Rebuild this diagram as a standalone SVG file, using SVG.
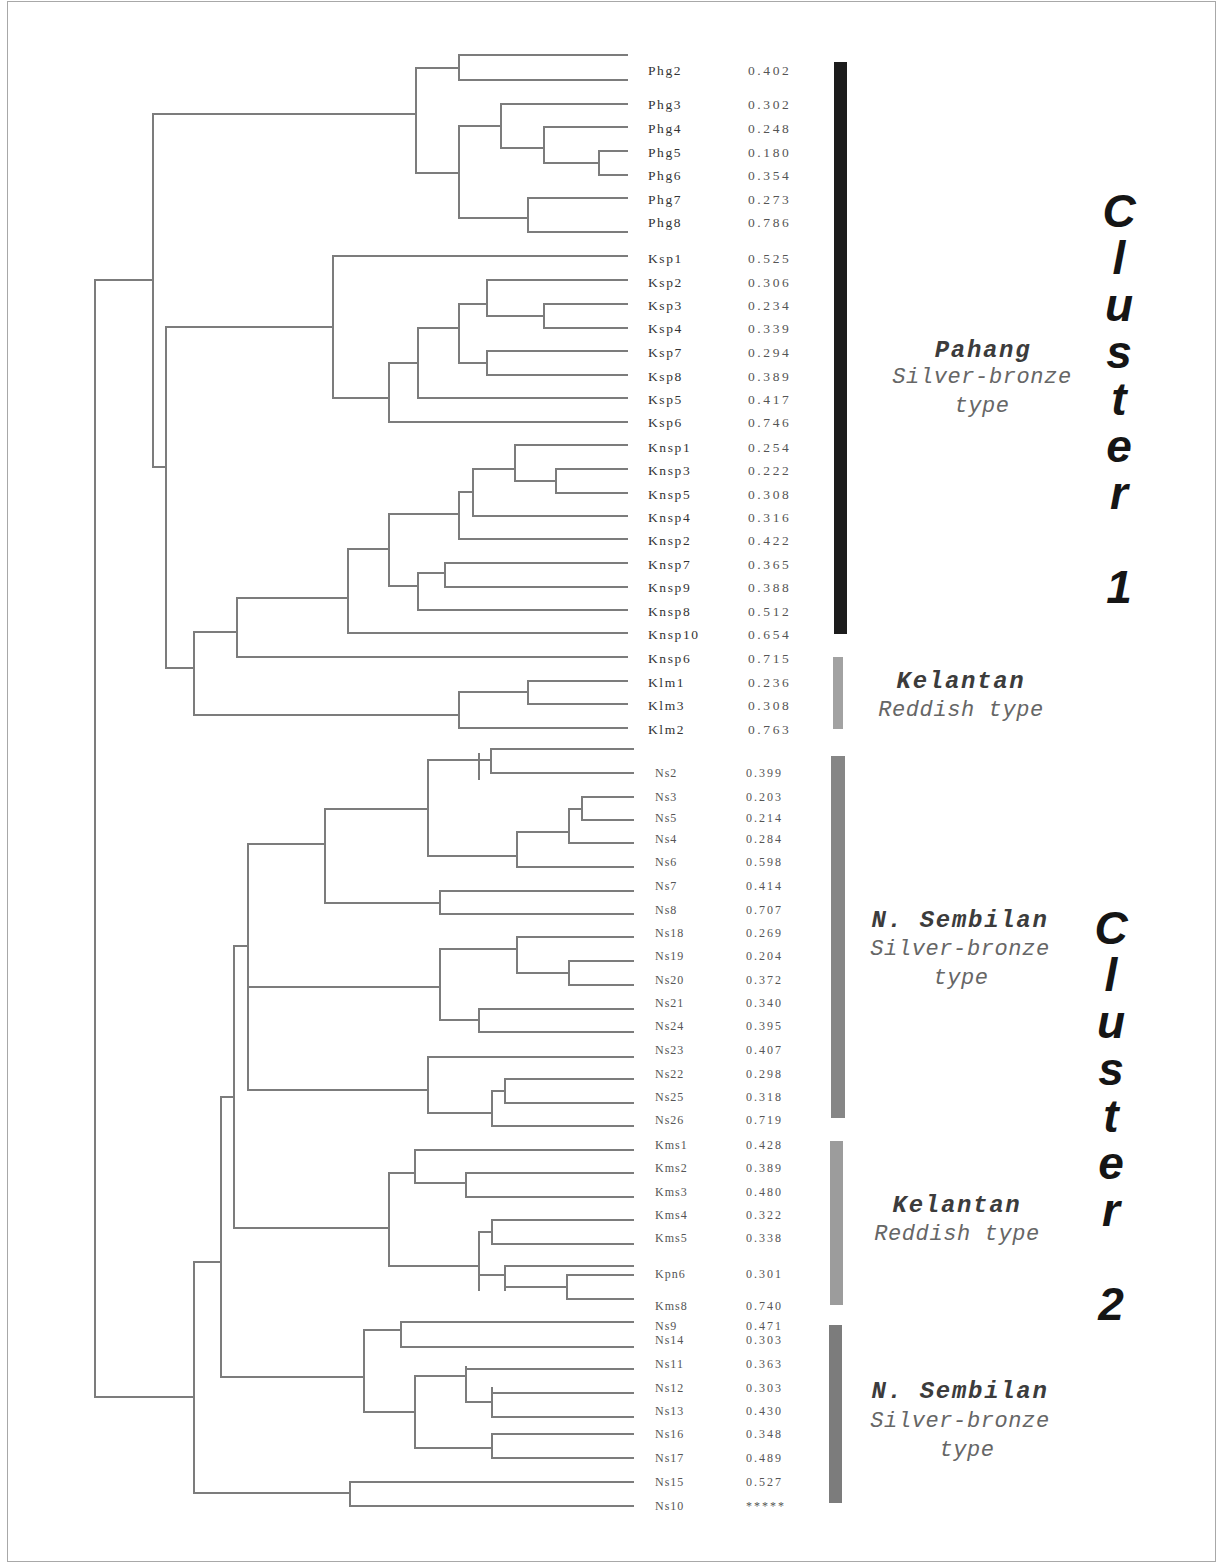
<svg xmlns="http://www.w3.org/2000/svg" width="1223" height="1564" viewBox="0 0 1223 1564">
<style>
.t{fill:none;stroke:#7c7c7c;stroke-width:2;stroke-linecap:square}
.n1{font-family:"Liberation Serif",serif;font-size:13.5px;fill:#333;letter-spacing:1.6px}
.v1{font-family:"Liberation Serif",serif;font-size:13.5px;fill:#555;letter-spacing:2.6px}
.n2{font-family:"Liberation Serif",serif;font-size:12px;fill:#555;letter-spacing:1px}
.v2{font-family:"Liberation Serif",serif;font-size:12px;fill:#555;letter-spacing:2px}
.h{font-family:"Liberation Mono","Courier New",monospace;font-size:24px;font-weight:bold;font-style:italic;fill:#3c3c3c;letter-spacing:1.7px;text-anchor:middle}
.s{font-family:"Liberation Mono","Courier New",monospace;font-size:22px;font-style:italic;fill:#666;letter-spacing:0.6px;text-anchor:middle}
.c{font-family:"Liberation Sans",Arial,sans-serif;font-size:46px;font-weight:bold;font-style:italic;fill:#151515;writing-mode:vertical-rl;text-orientation:upright;letter-spacing:-5px}
</style>
<rect x="7.5" y="1.5" width="1208" height="1560" fill="#fff" stroke="#a8a8a8" stroke-width="1"/>
<g id="connectors">
<path class="t" d="M459,55H627 M459,80H627 M501,104H627 M544,127H627 M599,151H627 M599,175H627 M528,198H627 M528,232H627 M333,256H627 M487,280H627 M544,304H627 M544,328H627 M487,351H627 M487,375H627 M418,398H627 M389,422H627 M515,445H627 M556,469H627 M556,493H627 M473,516H627 M459,539H627 M445,563H627 M445,587H627 M418,610H627 M348,633H627 M237,657H627 M528,681H627 M528,704H627 M459,728H627"/>
<path class="t" d="M544,163H599 M599,151V175 M501,148H544 M544,127V163 M459,126H501 M501,104V148 M459,218H528 M528,198V232 M416,173H459 M459,126V218 M416,68H459 M459,55V80 M153,114H416 M416,68V173 M487,316H544 M544,304V328 M459,304H487 M487,280V316 M459,363H487 M487,351V375 M418,328H459 M459,304V363 M389,363H418 M418,328V398 M333,398H389 M389,363V422 M166,327H333 M333,256V398 M515,481H556 M556,469V493 M473,469H515 M515,445V481 M459,492H473 M473,469V516 M389,514H459 M459,492V539 M418,573H445 M445,563V587 M389,586H418 M418,573V610 M348,549H389 M389,514V586 M237,598H348 M348,549V633 M194,632H237 M237,598V657 M459,692H528 M528,681V704 M194,715H459 M459,692V728 M166,668H194 M194,632V715 M153,467H166 M166,327V668 M95,280H153 M153,114V467"/>
<path class="t" d="M491,749H633 M491,773H633 M582,797H633 M582,820H633 M569,843H633 M517,867H633 M440,891H633 M440,914H633 M517,937H633 M569,961H633 M569,985H633 M479,1009H633 M479,1032H633 M428,1057H633 M505,1079H633 M505,1103H633 M492,1126H633 M415,1150H633 M466,1173H633 M466,1197H633 M492,1220H633 M492,1244H633 M505,1266H633 M567,1275H633 M567,1299H633 M401,1322H633 M401,1347H633 M466,1369H633 M492,1393H633 M492,1417H633 M492,1434H633 M492,1458H633 M350,1482H633 M350,1506H633"/>
<path class="t" d="M428,760H491 M491,749V773 M479,754V779 M569,809H582 M582,797V820 M517,832H569 M569,809V843 M428,856H517 M517,832V867 M325,809H428 M428,760V856 M325,903H440 M440,891V914 M248,844H325 M325,809V903 M517,973H569 M569,961V985 M440,949H517 M517,937V973 M440,1020H479 M479,1009V1032 M248,987H440 M440,949V1020 M492,1091H505 M505,1079V1103 M428,1113H492 M492,1091V1126 M248,1090H428 M428,1057V1113 M234,946H248 M248,844V1090 M415,1183H466 M466,1173V1197 M389,1173H415 M415,1150V1183 M479,1232H492 M492,1220V1244 M505,1287H567 M567,1275V1299 M479,1275H505 M505,1266V1290 M389,1266H479 M479,1232V1290 M234,1228H389 M389,1173V1266 M221,1097H234 M234,946V1228 M364,1330H401 M401,1322V1347 M466,1402H492 M492,1388V1417 M415,1376H466 M466,1367V1402 M415,1448H492 M492,1434V1458 M364,1412H415 M415,1376V1448 M221,1377H364 M364,1330V1412 M194,1262H221 M221,1097V1377 M194,1493H350 M350,1482V1506 M95,1397H194 M194,1262V1493 M95,280V1397"/>
</g>
<g id="leaves-cluster1">
<g id="Phg2"><text class="n1" x="648" y="75">Phg2</text><text class="v1" x="748" y="75">0.402</text></g>
<g id="Phg3"><text class="n1" x="648" y="109">Phg3</text><text class="v1" x="748" y="109">0.302</text></g>
<g id="Phg4"><text class="n1" x="648" y="133">Phg4</text><text class="v1" x="748" y="133">0.248</text></g>
<g id="Phg5"><text class="n1" x="648" y="157">Phg5</text><text class="v1" x="748" y="157">0.180</text></g>
<g id="Phg6"><text class="n1" x="648" y="180">Phg6</text><text class="v1" x="748" y="180">0.354</text></g>
<g id="Phg7"><text class="n1" x="648" y="204">Phg7</text><text class="v1" x="748" y="204">0.273</text></g>
<g id="Phg8"><text class="n1" x="648" y="227">Phg8</text><text class="v1" x="748" y="227">0.786</text></g>
<g id="Ksp1"><text class="n1" x="648" y="263">Ksp1</text><text class="v1" x="748" y="263">0.525</text></g>
<g id="Ksp2"><text class="n1" x="648" y="287">Ksp2</text><text class="v1" x="748" y="287">0.306</text></g>
<g id="Ksp3"><text class="n1" x="648" y="310">Ksp3</text><text class="v1" x="748" y="310">0.234</text></g>
<g id="Ksp4"><text class="n1" x="648" y="333">Ksp4</text><text class="v1" x="748" y="333">0.339</text></g>
<g id="Ksp7"><text class="n1" x="648" y="357">Ksp7</text><text class="v1" x="748" y="357">0.294</text></g>
<g id="Ksp8"><text class="n1" x="648" y="381">Ksp8</text><text class="v1" x="748" y="381">0.389</text></g>
<g id="Ksp5"><text class="n1" x="648" y="404">Ksp5</text><text class="v1" x="748" y="404">0.417</text></g>
<g id="Ksp6"><text class="n1" x="648" y="427">Ksp6</text><text class="v1" x="748" y="427">0.746</text></g>
<g id="Knsp1"><text class="n1" x="648" y="452">Knsp1</text><text class="v1" x="748" y="452">0.254</text></g>
<g id="Knsp3"><text class="n1" x="648" y="475">Knsp3</text><text class="v1" x="748" y="475">0.222</text></g>
<g id="Knsp5"><text class="n1" x="648" y="499">Knsp5</text><text class="v1" x="748" y="499">0.308</text></g>
<g id="Knsp4"><text class="n1" x="648" y="522">Knsp4</text><text class="v1" x="748" y="522">0.316</text></g>
<g id="Knsp2"><text class="n1" x="648" y="545">Knsp2</text><text class="v1" x="748" y="545">0.422</text></g>
<g id="Knsp7"><text class="n1" x="648" y="569">Knsp7</text><text class="v1" x="748" y="569">0.365</text></g>
<g id="Knsp9"><text class="n1" x="648" y="592">Knsp9</text><text class="v1" x="748" y="592">0.388</text></g>
<g id="Knsp8"><text class="n1" x="648" y="616">Knsp8</text><text class="v1" x="748" y="616">0.512</text></g>
<g id="Knsp10"><text class="n1" x="648" y="639">Knsp10</text><text class="v1" x="748" y="639">0.654</text></g>
<g id="Knsp6"><text class="n1" x="648" y="663">Knsp6</text><text class="v1" x="748" y="663">0.715</text></g>
<g id="Klm1"><text class="n1" x="648" y="687">Klm1</text><text class="v1" x="748" y="687">0.236</text></g>
<g id="Klm3"><text class="n1" x="648" y="710">Klm3</text><text class="v1" x="748" y="710">0.308</text></g>
<g id="Klm2"><text class="n1" x="648" y="734">Klm2</text><text class="v1" x="748" y="734">0.763</text></g>
</g>
<g id="leaves-cluster2">
<g id="Ns2"><text class="n2" x="655" y="777">Ns2</text><text class="v2" x="746" y="777">0.399</text></g>
<g id="Ns3"><text class="n2" x="655" y="801">Ns3</text><text class="v2" x="746" y="801">0.203</text></g>
<g id="Ns5"><text class="n2" x="655" y="822">Ns5</text><text class="v2" x="746" y="822">0.214</text></g>
<g id="Ns4"><text class="n2" x="655" y="843">Ns4</text><text class="v2" x="746" y="843">0.284</text></g>
<g id="Ns6"><text class="n2" x="655" y="866">Ns6</text><text class="v2" x="746" y="866">0.598</text></g>
<g id="Ns7"><text class="n2" x="655" y="890">Ns7</text><text class="v2" x="746" y="890">0.414</text></g>
<g id="Ns8"><text class="n2" x="655" y="914">Ns8</text><text class="v2" x="746" y="914">0.707</text></g>
<g id="Ns18"><text class="n2" x="655" y="937">Ns18</text><text class="v2" x="746" y="937">0.269</text></g>
<g id="Ns19"><text class="n2" x="655" y="960">Ns19</text><text class="v2" x="746" y="960">0.204</text></g>
<g id="Ns20"><text class="n2" x="655" y="984">Ns20</text><text class="v2" x="746" y="984">0.372</text></g>
<g id="Ns21"><text class="n2" x="655" y="1007">Ns21</text><text class="v2" x="746" y="1007">0.340</text></g>
<g id="Ns24"><text class="n2" x="655" y="1030">Ns24</text><text class="v2" x="746" y="1030">0.395</text></g>
<g id="Ns23"><text class="n2" x="655" y="1054">Ns23</text><text class="v2" x="746" y="1054">0.407</text></g>
<g id="Ns22"><text class="n2" x="655" y="1078">Ns22</text><text class="v2" x="746" y="1078">0.298</text></g>
<g id="Ns25"><text class="n2" x="655" y="1101">Ns25</text><text class="v2" x="746" y="1101">0.318</text></g>
<g id="Ns26"><text class="n2" x="655" y="1124">Ns26</text><text class="v2" x="746" y="1124">0.719</text></g>
<g id="Kms1"><text class="n2" x="655" y="1149">Kms1</text><text class="v2" x="746" y="1149">0.428</text></g>
<g id="Kms2"><text class="n2" x="655" y="1172">Kms2</text><text class="v2" x="746" y="1172">0.389</text></g>
<g id="Kms3"><text class="n2" x="655" y="1196">Kms3</text><text class="v2" x="746" y="1196">0.480</text></g>
<g id="Kms4"><text class="n2" x="655" y="1219">Kms4</text><text class="v2" x="746" y="1219">0.322</text></g>
<g id="Kms5"><text class="n2" x="655" y="1242">Kms5</text><text class="v2" x="746" y="1242">0.338</text></g>
<g id="Kpn6"><text class="n2" x="655" y="1278">Kpn6</text><text class="v2" x="746" y="1278">0.301</text></g>
<g id="Kms8"><text class="n2" x="655" y="1310">Kms8</text><text class="v2" x="746" y="1310">0.740</text></g>
<g id="Ns9"><text class="n2" x="655" y="1330">Ns9</text><text class="v2" x="746" y="1330">0.471</text></g>
<g id="Ns14"><text class="n2" x="655" y="1344">Ns14</text><text class="v2" x="746" y="1344">0.303</text></g>
<g id="Ns11"><text class="n2" x="655" y="1368">Ns11</text><text class="v2" x="746" y="1368">0.363</text></g>
<g id="Ns12"><text class="n2" x="655" y="1392">Ns12</text><text class="v2" x="746" y="1392">0.303</text></g>
<g id="Ns13"><text class="n2" x="655" y="1415">Ns13</text><text class="v2" x="746" y="1415">0.430</text></g>
<g id="Ns16"><text class="n2" x="655" y="1438">Ns16</text><text class="v2" x="746" y="1438">0.348</text></g>
<g id="Ns17"><text class="n2" x="655" y="1462">Ns17</text><text class="v2" x="746" y="1462">0.489</text></g>
<g id="Ns15"><text class="n2" x="655" y="1486">Ns15</text><text class="v2" x="746" y="1486">0.527</text></g>
<g id="Ns10"><text class="n2" x="655" y="1510">Ns10</text><text class="v2" x="746" y="1510">*****</text></g>
</g>
<g id="group-pahang">
<rect x="834" y="62" width="13" height="572" fill="#1c1c1c"/>
<text class="h" x="983" y="357">Pahang</text>
<text class="s" x="982" y="383">Silver-bronze</text>
<text class="s" x="982" y="412">type</text>
</g>
<g id="group-kelantan1">
<rect x="833" y="657" width="10" height="72" fill="#a2a2a2"/>
<text class="h" x="961" y="688">Kelantan</text>
<text class="s" x="961" y="716">Reddish type</text>
</g>
<g id="group-nsembilan1">
<rect x="831" y="756" width="14" height="362" fill="#868686"/>
<text class="h" x="960" y="927">N. Sembilan</text>
<text class="s" x="960" y="955">Silver-bronze</text>
<text class="s" x="961" y="984">type</text>
</g>
<g id="group-kelantan2">
<rect x="830" y="1141" width="13" height="164" fill="#9c9c9c"/>
<text class="h" x="957" y="1212">Kelantan</text>
<text class="s" x="957" y="1240">Reddish type</text>
</g>
<g id="group-nsembilan2">
<rect x="829" y="1325" width="13" height="178" fill="#7c7c7c"/>
<text class="h" x="960" y="1398">N. Sembilan</text>
<text class="s" x="960" y="1427">Silver-bronze</text>
<text class="s" x="967" y="1456">type</text>
</g>
<g id="cluster1">
<text class="c" x="1119" y="185">Cluster 1</text>
</g>
<g id="cluster2">
<text class="c" x="1111" y="902">Cluster 2</text>
</g>
</svg>
